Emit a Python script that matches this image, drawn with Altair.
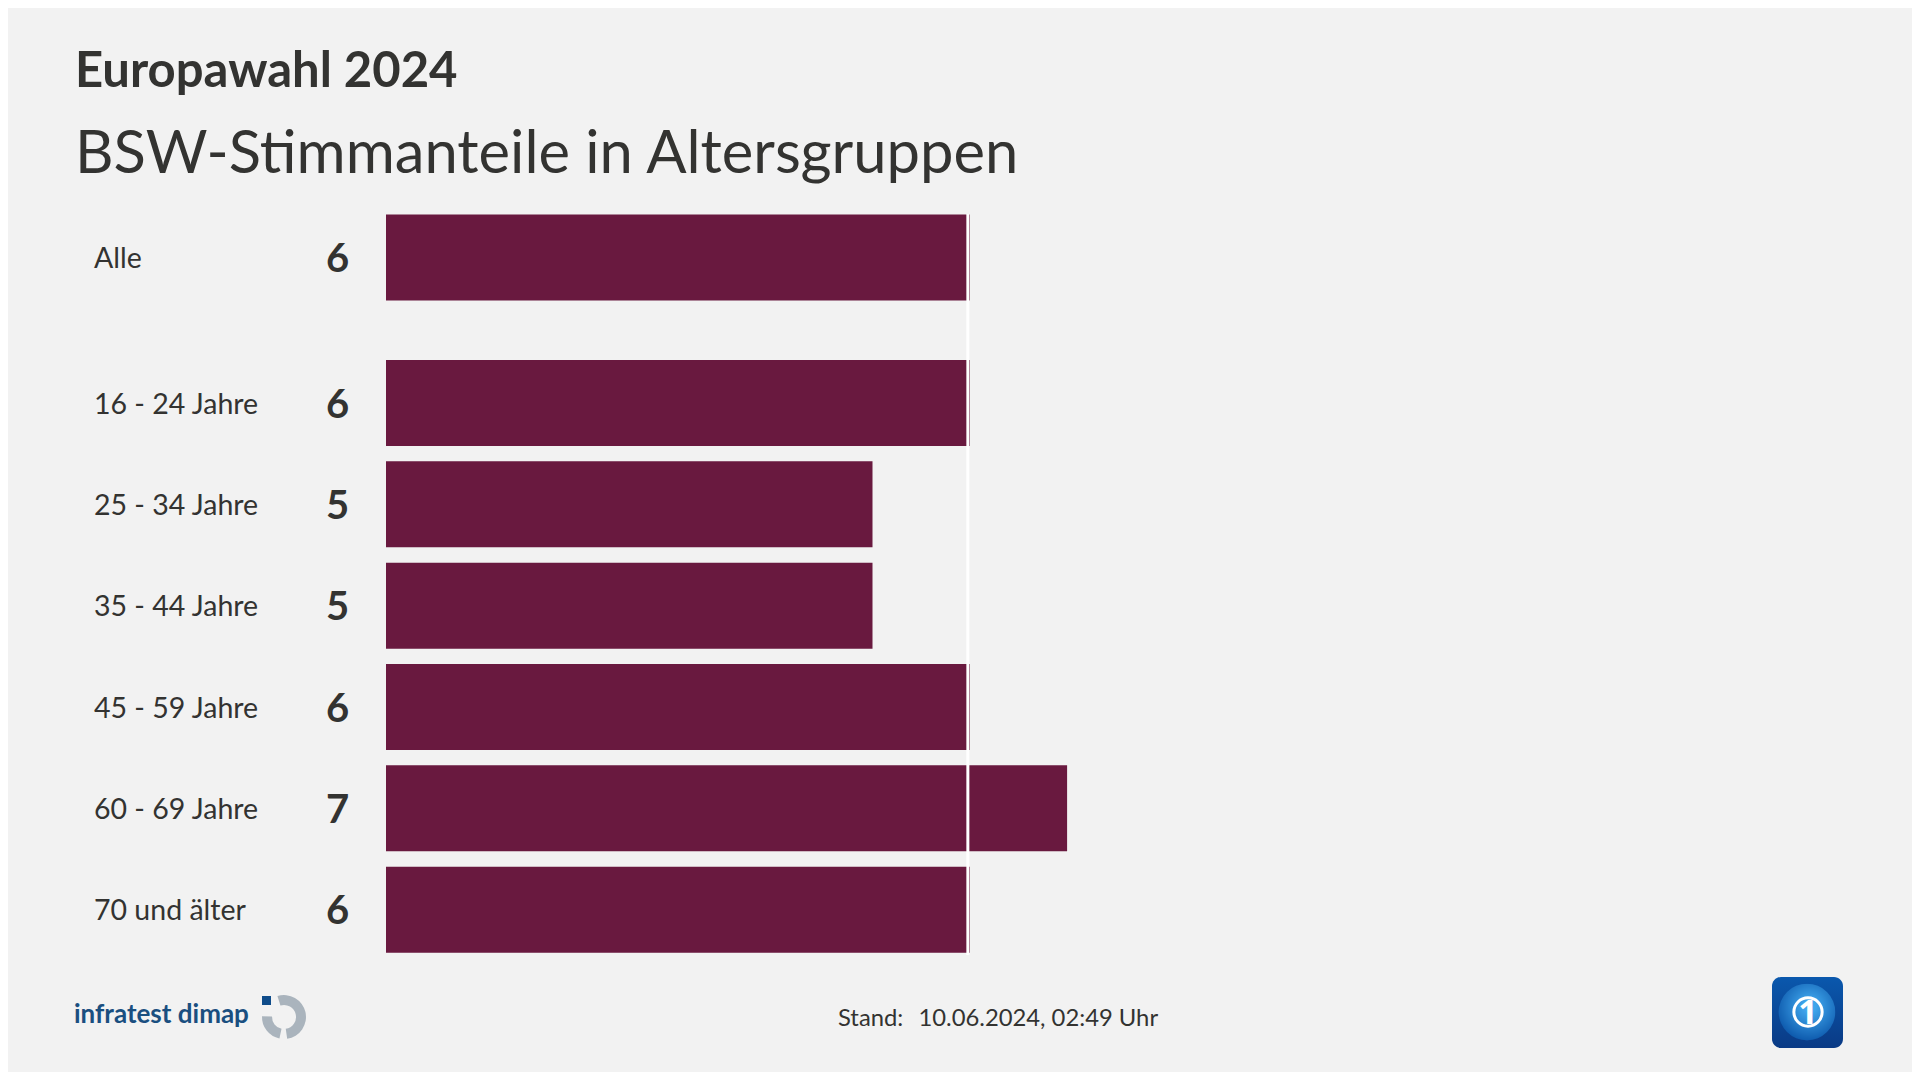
import altair as alt
import pandas as pd

# --- data -----------------------------------------------------------------
groups = ["Alle", "16 - 24 Jahre", "25 - 34 Jahre", "35 - 44 Jahre",
          "45 - 59 Jahre", "60 - 69 Jahre", "70 und älter"]
values = [6, 6, 5, 5, 6, 7, 6]
rows = [0, 1.437, 2.437, 3.437, 4.437, 5.437, 6.437]
reference_line = [5.98]

title_text = ["Europawahl 2024"]
subtitle_text = ["BSW-Stimmanteile in Altersgruppen"]
stand_text = ["Stand:\u00a0\u2009 10.06.2024, 02:49 Uhr"]
logo_text = ["infratest dimap"]

W, H = 1904, 1064
BG = "#f2f2f2"
BAR = "#69193f"
INK = "#333331"
FONT = "Lato"
X0, UX = 378.0, 97.3      # plot origin and px per unit
Y0, UY = 246.7, 102.3

df = pd.DataFrame({"group": groups, "value": values, "row": rows})

x_scale = alt.Scale(domain=[-X0 / UX, (W - X0) / UX], range=[0, W], nice=False, zero=False)
y_scale = alt.Scale(domain=[-Y0 / UY, (H - Y0) / UY], range=[0, H], nice=False, zero=False)

base = alt.Chart(df)
y_enc = alt.Y("row:Q", scale=y_scale, axis=None)

bars = base.mark_bar(color=BAR, size=86, cornerRadius=0).encode(
    x=alt.X("zero:Q", scale=x_scale, axis=None),
    x2=alt.X2("value:Q"),
    y=y_enc,
).transform_calculate(zero="0")

line = alt.Chart(pd.DataFrame({"v": reference_line})).mark_rule(color="white", strokeWidth=3).encode(
    x=alt.X("v:Q", scale=x_scale, axis=None),
    y=alt.value(206),
    y2=alt.value(947),
)

labels = base.mark_text(align="left", baseline="middle", font=FONT, fontSize=28.5, color=INK, dy=1.5).encode(
    x=alt.value(86), y=y_enc, text="group:N"
)
nums = base.mark_text(align="center", baseline="middle", font=FONT, fontWeight="bold", fontSize=40, color=INK, dy=2.5).encode(
    x=alt.value(329.5), y=y_enc, text="value:Q"
)


def text_layer(lst, x, y, **kw):
    return alt.Chart(pd.DataFrame({"t": lst})).mark_text(
        align=kw.pop("align", "left"), baseline="alphabetic", font=kw.pop("font", FONT), **kw
    ).encode(x=alt.value(x), y=alt.value(y), text="t:N")


title = text_layer(title_text, 67, 79, fontSize=49, fontWeight="bold", color=INK)
subtitle = text_layer(subtitle_text, 67, 165, fontSize=59.7, color=INK)
stand = text_layer(stand_text, 830, 1018, fontSize=23.8, color=INK)
logo_t = text_layer(logo_text, 66, 1015, fontSize=26, fontWeight="bold", color="#1a4f80")

one = pd.DataFrame({"k": [1]})


def arc(t0, t1):
    return alt.Chart(one).mark_arc(
        theta=t0, theta2=t1, innerRadius=12, outerRadius=22, color="#aab4bd"
    ).encode(x=alt.value(276), y=alt.value(1009))


arc1 = arc(5.98, 9.28)
arc2 = arc(3.35, 4.75)
sq = alt.Chart(one).mark_rect(color="#0f4c8a").encode(
    x=alt.value(254), x2=alt.value(263), y=alt.value(988), y2=alt.value(997)
)

ts_bg = alt.Chart(one).mark_rect(
    cornerRadius=9,
    fill=alt.Gradient(gradient="linear", x1=0, y1=0, x2=0, y2=1,
                      stops=[alt.GradientStop(color="#0a58ad", offset=0),
                             alt.GradientStop(color="#0a3a85", offset=1)]),
).encode(x=alt.value(1764), x2=alt.value(1835), y=alt.value(969), y2=alt.value(1040))
ts_globe = alt.Chart(one).mark_circle(
    opacity=1,
    fill=alt.Gradient(gradient="radial", x1=0.55, y1=0.4, x2=0.55, y2=0.4, r1=0.1, r2=0.65,
                      stops=[alt.GradientStop(color="#3fa6ec", offset=0),
                             alt.GradientStop(color="#0a54a8", offset=1)]),
).encode(x=alt.value(1799), y=alt.value(1004), size=alt.value(3200))
ts_ring = alt.Chart(one).mark_point(filled=False, color="white", strokeWidth=3, opacity=1).encode(
    x=alt.value(1800), y=alt.value(1004), size=alt.value(800)
)
ts_one = text_layer(["1"], 1800, 1016, align="center", fontSize=34, fontWeight="bold", color="white", font="Open Sans")

chart = alt.layer(
    bars, line, labels, nums, title, subtitle, stand, logo_t,
    arc1, arc2, sq, ts_bg, ts_globe, ts_ring, ts_one
).properties(
    width=W, height=H, background=BG, padding=0,
    autosize=alt.AutoSizeParams(type="none"),
).configure_view(stroke=None)

chart.save("out.html", embed_options={"renderer": "svg", "actions": False})
